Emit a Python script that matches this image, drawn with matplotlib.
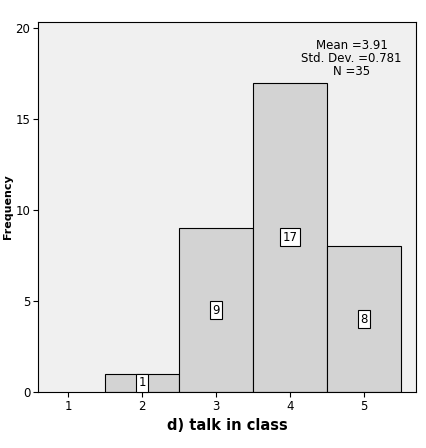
import matplotlib
matplotlib.use("Agg")
import matplotlib.pyplot as plt

categories = [2, 3, 4, 5]
counts = [1, 9, 17, 8]
xticks = [1, 2, 3, 4, 5]
yticks = [0, 5, 10, 15, 20]

fig = plt.figure(figsize=(4.26, 4.48), dpi=100)
ax = fig.add_axes([38/426, 56/448, 378/426, 370/448])
ax.set_facecolor("#f0f0f0")
ax.bar(categories, counts, width=1.0, color="#d3d3d3", edgecolor="black", linewidth=0.8)
for c, v in zip(categories, counts):
    ax.text(c, v/2, str(v), ha="center", va="center", fontsize=8.5,
            bbox=dict(boxstyle="square,pad=0.2", fc="white", ec="black", lw=0.8))
ax.set_xlim(0.595, 5.7)
ax.set_ylim(0, 20.33)
ax.set_xticks(xticks)
ax.set_yticks(yticks)
ax.tick_params(labelsize=8.5, pad=2)
ax.set_ylabel("Frequency", fontsize=8, fontweight="bold", labelpad=2)
ax.set_xlabel("d) talk in class", fontsize=10.5, fontweight="bold")
ax.text(0.83, 0.955, "Mean =3.91\nStd. Dev. =0.781\nN =35", transform=ax.transAxes,
        ha="center", va="top", fontsize=8.5, linespacing=1.0)
fig.savefig("out.png", dpi=100)
